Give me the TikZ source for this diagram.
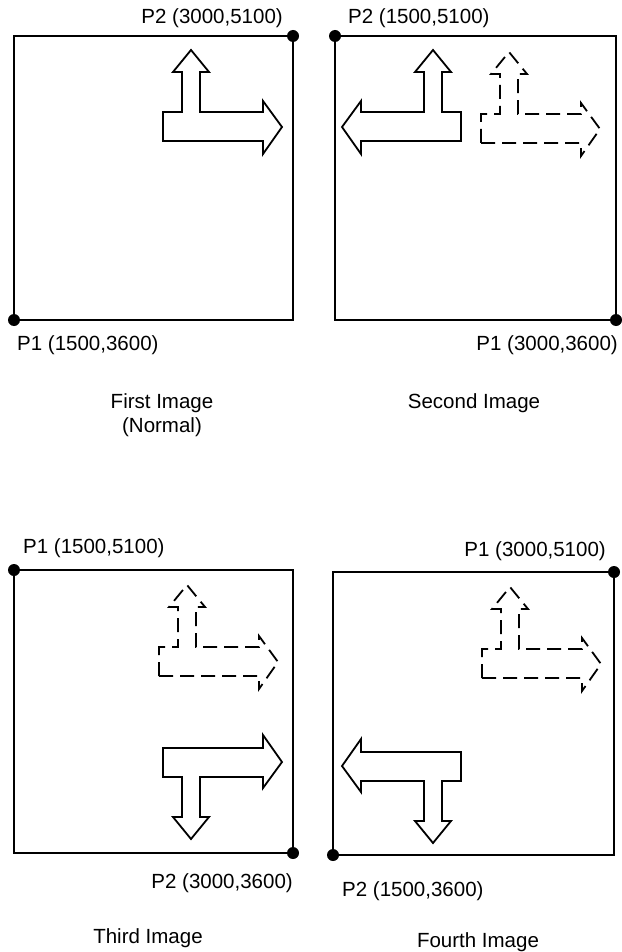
\documentclass[tikz,border=0pt]{standalone}
\usepackage{fontspec}
\setmainfont{Liberation Sans}
\begin{document}
\begin{tikzpicture}[x=1pt,y=-1pt,
  lbl/.style={font=\fontsize{20.5}{24}\selectfont, inner sep=0pt},
  boxline/.style={draw, line width=2.4pt},
  tarrow/.style={line width=1.8pt, line join=miter, miter limit=10},
  dasharrow/.style={tarrow, dash pattern=on 14pt off 7pt},
  corner/.style={circle, fill=black, inner sep=0pt, minimum size=12pt},
  tarr/.pic={\draw[pic actions] (-130,105) -- (-130,76) -- (-111,76) -- (-111,36) -- (-120,36) -- (-102,14) -- (-84,36) -- (-93,36) -- (-93,76) -- (-30,76) -- (-30,65) -- (-11,91) -- (-30,118) -- (-30,105) -- cycle;}
]
\useasboundingbox (0,0) rectangle (621,952);

% corner coordinates
\coordinate (b1nw) at (14,36);  \coordinate (b1se) at (293,320);
\coordinate (b2nw) at (335,36); \coordinate (b2se) at (616,320);
\coordinate (b3nw) at (14,570); \coordinate (b3se) at (293,853);
\coordinate (b4nw) at (333,572);\coordinate (b4se) at (614,855);

% boxes
\draw[boxline] (b1nw) rectangle (b1se);
\draw[boxline] (b2nw) rectangle (b2se);
\draw[boxline] (b3nw) rectangle (b3se);
\draw[boxline] (b4nw) rectangle (b4se);

% corner dots
\node[corner] (d1a) at (b1nw -| b1se) {};
\node[corner] (d1b) at (b1nw |- b1se) {};
\node[corner] (d2a) at (b2nw) {};
\node[corner] (d2b) at (b2se) {};
\node[corner] (d3a) at (b3nw) {};
\node[corner] (d3b) at (b3se) {};
\node[corner] (d4a) at (b4nw -| b4se) {};
\node[corner] (d4b) at (b4nw |- b4se) {};

% arrows
\pic[tarrow] (a1) at (293,36) {tarr};
\pic[tarrow, xscale=-1] (a2) at (331,36) {tarr};
\pic[dasharrow] (a2d) at (611,38) {tarr};
\pic[dasharrow] (a3d) at (289,571) {tarr};
\pic[tarrow, yscale=-1] (a3) at (293,853) {tarr};
\pic[dasharrow] (a4d) at (612,573) {tarr};
\pic[tarrow, xscale=-1, yscale=-1] (a4) at (331,857) {tarr};

% labels
\node[lbl, anchor=base east] (t1) at (283,24) {P2 (3000,5100)};
\node[lbl, anchor=base west] (t2) at (348,24) {P2 (1500,5100)};
\node[lbl, anchor=base west] (t3) at (17,350) {P1 (1500,3600)};
\node[lbl, anchor=base east] (t4) at (618,350) {P1 (3000,3600)};
\node[lbl, anchor=base] (c1) at (162,408) {First Image};
\node[lbl, anchor=base] (c1b) at (162,432) {(Normal)};
\node[lbl, anchor=base] (c2) at (474,408) {Second Image};

\node[lbl, anchor=base west] (t5) at (23,553) {P1 (1500,5100)};
\node[lbl, anchor=base east] (t6) at (606,556) {P1 (3000,5100)};
\node[lbl, anchor=base east] (t7) at (293,888) {P2 (3000,3600)};
\node[lbl, anchor=base west] (t8) at (342,896) {P2 (1500,3600)};
\node[lbl, anchor=base] (c3) at (148,943) {Third Image};
\node[lbl, anchor=base] (c4) at (478,947) {Fourth Image};
\end{tikzpicture}
\end{document}
